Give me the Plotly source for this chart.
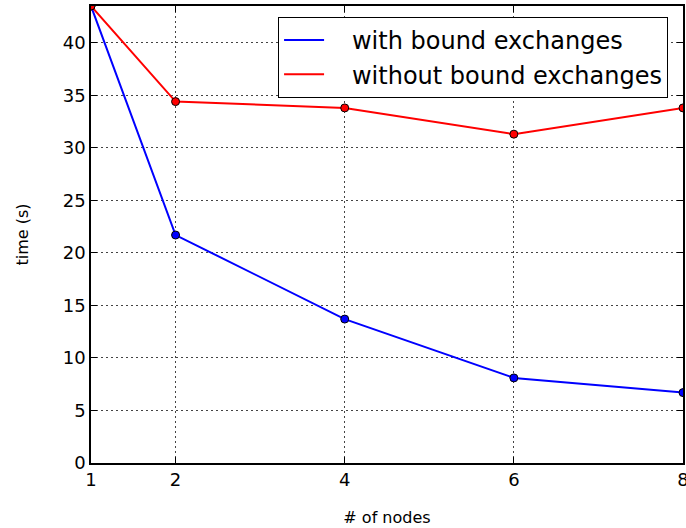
import plotly.graph_objects as go

nodes = [1, 2, 4, 6, 8]
with_bound = [43.5, 21.7, 13.7, 8.1, 6.7]
without_bound = [43.5, 34.4, 33.8, 31.3, 33.8]
x_ticks = [1, 2, 4, 6, 8]
y_ticks = [0, 5, 10, 15, 20, 25, 30, 35, 40]

series = [("with bound exchanges", with_bound, "#0000ff"),
          ("without bound exchanges", without_bound, "#ff0000")]

fig = go.Figure()
for name, vals, col in series:
    fig.add_trace(go.Scatter(x=nodes, y=vals, mode="lines", name="\u00a0\u00a0\u00a0" + name,
                             line=dict(color=col, width=2)))
for name, vals, col in series:
    fig.add_trace(go.Scatter(x=nodes, y=vals, mode="markers", name=name, showlegend=False,
                             marker=dict(size=8, color=col, line=dict(color="black", width=1))))

axis_common = dict(showline=True, linecolor="black", linewidth=1.5, mirror="ticks",
                   ticks="inside", ticklen=6, tickcolor="black",
                   showgrid=True, gridcolor="#444444", griddash="2px,3px", gridwidth=1,
                   zeroline=False, tickfont=dict(size=18, color="black"),
                   ticklabeloverflow="allow", automargin=False)

fig.update_xaxes(range=[1, 8], tickvals=x_ticks,
                 title=dict(text="# of nodes", font=dict(size=16), standoff=22), **axis_common)
fig.update_yaxes(range=[0, 43.5], tickvals=y_ticks,
                 title=dict(text="time (s)", font=dict(size=16), standoff=30), **axis_common)

fig.update_layout(
    width=686, height=528,
    margin=dict(l=91, r=3, t=6, b=65),
    plot_bgcolor="white", paper_bgcolor="white",
    font=dict(family="DejaVu Sans", color="black"),
    legend=dict(x=0.316, y=0.976, xanchor="left", yanchor="top",
                bgcolor="white", bordercolor="black", borderwidth=1,
                itemwidth=40, tracegroupgap=0,
                font=dict(size=24)),
)

fig.write_html("out.html")
